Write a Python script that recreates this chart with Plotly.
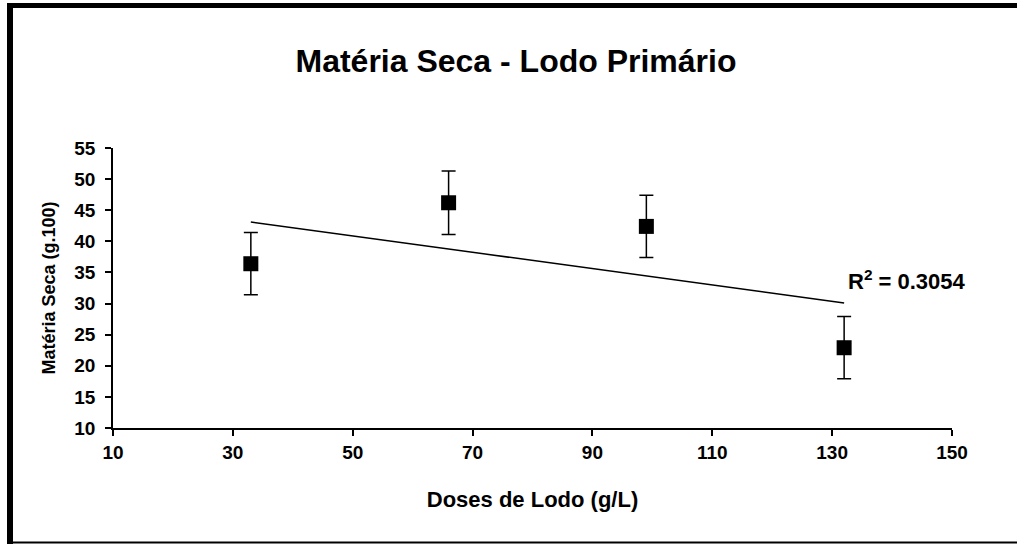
import plotly.graph_objects as go

doses = [33, 66, 99, 132]
materia_seca = [36.4, 46.2, 42.4, 22.9]
erro = [5.0, 5.1, 5.0, 5.0]
trend_x = [33, 132]
trend_y = [43.1, 30.1]
r2_label = "R<sup>2</sup> = 0.3054"
x_ticks = [10, 30, 50, 70, 90, 110, 130, 150]
y_ticks = [10, 15, 20, 25, 30, 35, 40, 45, 50, 55]

FONT = "Liberation Sans, Arial, sans-serif"

fig = go.Figure()
fig.add_trace(go.Scatter(x=trend_x, y=trend_y, mode="lines",
                         line=dict(color="black", width=1.5),
                         showlegend=False, hoverinfo="skip"))
fig.add_trace(go.Scatter(x=doses, y=materia_seca, mode="markers",
                         marker=dict(symbol="square", size=15, color="black"),
                         error_y=dict(type="data", array=erro, visible=True,
                                      color="black", thickness=1.5, width=7),
                         showlegend=False))

fig.add_annotation(x=132.3, y=33.8, xref="x", yref="y",
                   text=f"<b>{r2_label}</b>",
                   showarrow=False, xanchor="left", yanchor="middle",
                   font=dict(family=FONT, size=22, color="black"))

W, H = 1017, 545
L, R, T, B = 113, 65, 148, 117
pw, ph = W - L - R, H - T - B

def px(x):
    return (x - L) / pw

def py(y):
    return (H - B - y) / ph

shapes = [
    dict(type="rect", xref="paper", yref="paper", x0=px(7), x1=px(1017), y0=py(8), y1=py(3),
         fillcolor="black", line=dict(width=0), layer="above"),
    dict(type="rect", xref="paper", yref="paper", x0=px(7), x1=px(13), y0=py(544), y1=py(3),
         fillcolor="black", line=dict(width=0), layer="above"),
    dict(type="rect", xref="paper", yref="paper", x0=px(12), x1=px(1017), y0=py(543.5), y1=py(541.5),
         fillcolor="black", line=dict(width=0), layer="above"),
]

fig.update_layout(
    width=W, height=H,
    margin=dict(l=L, r=R, t=T, b=B, pad=0),
    paper_bgcolor="white", plot_bgcolor="white",
    font=dict(family=FONT, color="black"),
    title=dict(text="<b>Matéria Seca - Lodo Primário</b>", xref="container", x=516 / W, xanchor="center",
               y=1 - 61 / H, yanchor="middle",
               font=dict(family=FONT, size=32, color="black")),
    shapes=shapes,
    xaxis=dict(range=[10, 150], tickvals=x_ticks, ticktext=[f"<b>{v}</b>" for v in x_ticks],
               showgrid=False, zeroline=False, showline=True, linecolor="black", linewidth=1.5,
               ticks="outside", ticklen=6, tickwidth=1.5, tickcolor="black",
               ticklabelstandoff=0,
               tickfont=dict(family=FONT, size=19, color="black"),
               title=dict(text="<b>Doses de Lodo (g/L)</b>", standoff=30,
                          font=dict(family=FONT, size=22, color="black"))),
    yaxis=dict(range=[10, 55], tickvals=y_ticks, ticktext=[f"<b>{v}</b>" for v in y_ticks],
               showgrid=False, zeroline=False, showline=True, linecolor="black", linewidth=1.5,
               ticks="outside", ticklen=6, tickwidth=1.5, tickcolor="black",
               ticklabelstandoff=6,
               tickfont=dict(family=FONT, size=19, color="black"),
               title=dict(text="<b>Matéria Seca (g.100)</b>", standoff=14,
                          font=dict(family=FONT, size=18, color="black"))),
)

fig.write_html("out.html", config={"displayModeBar": False},
               post_script="document.body.style.margin='0';")
